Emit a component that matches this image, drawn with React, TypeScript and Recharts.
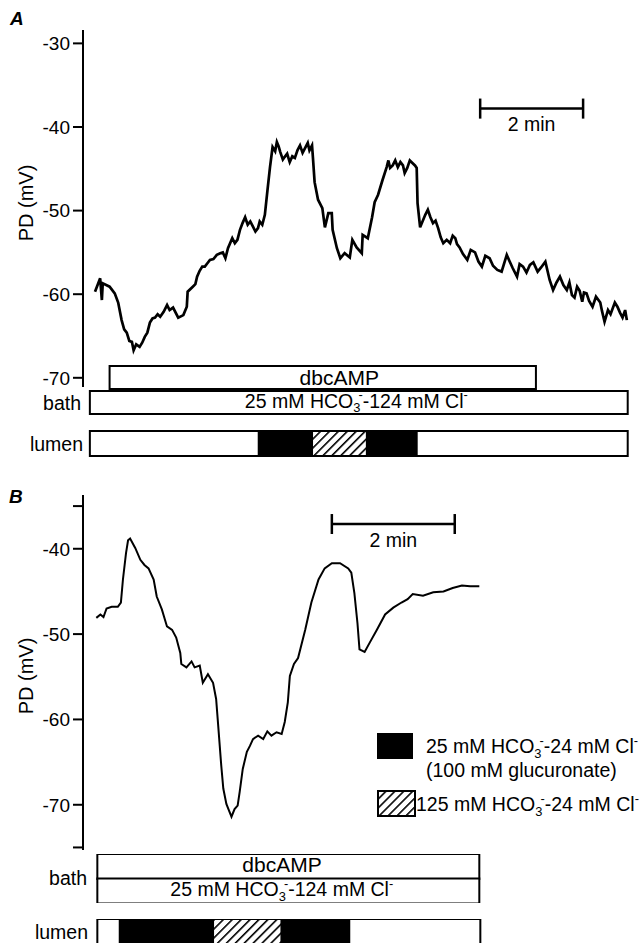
import React from 'react'
import { LineChart, Line, XAxis, YAxis, ReferenceLine, BarChart, Bar, LabelList } from 'recharts'

const FONT = '"Liberation Sans", Arial, Helvetica, sans-serif'

// panel A trace: time (s) and PD (mV)
const TIME_A = [14,20,22,23,31,37,41,45,48,51,54,57,59,62,66,69,72,75,78,81,84,87,90,94,98,101,105,111,117,121,122,128,131,133,136,139,142,145,148,152,156,160,163,166,169,174,177,180,183,186,189,192,195,198,201,204,206,209,212,215,218,221,224,226,228,230,233,235,238,241,244,247,250,253,256,259,262,264,267,268,270,274,279,282,286,290,291,296,300,305,311,314,319,325,326,332,337,340,344,349,354,356,358,361,364,367,370,373,375,378,381,384,387,389,390,393,399,402,405,408,411,414,417,420,424,428,431,434,436,439,443,448,452,457,461,465,469,474,478,483,488,494,497,501,506,509,513,517,521,525,530,534,539,544,548,552,556,560,564,567,570,573,576,579,582,584,587,590,594,598,603,605,608,612,615,620,623,626,629,632,634]
const PD_A = [-59.7,-58.1,-60.7,-58.7,-59.1,-59.9,-61.0,-63.1,-64.2,-64.6,-65.6,-65.7,-66.7,-66.0,-66.3,-65.8,-65.1,-64.6,-63.4,-62.9,-62.8,-62.4,-62.7,-62.1,-61.3,-61.9,-61.6,-62.8,-62.5,-61.5,-59.7,-59.1,-58.8,-57.9,-57.2,-56.7,-56.7,-56.3,-55.9,-55.8,-55.3,-55.1,-55.0,-55.7,-54.5,-53.3,-53.9,-53.5,-52.3,-51.5,-50.8,-51.7,-51.3,-51.9,-52.5,-52.1,-51.3,-51.7,-50.5,-47.6,-44.8,-42.4,-42.9,-41.8,-42.3,-43.0,-43.9,-43.6,-43.2,-44.2,-43.5,-43.7,-42.8,-42.2,-43.1,-42.5,-41.9,-42.8,-42.2,-43.6,-46.6,-48.7,-49.7,-52.0,-50.3,-50.3,-52.3,-54.5,-55.7,-55.1,-55.6,-53.5,-54.4,-55.1,-52.9,-53.3,-50.8,-49.0,-48.1,-46.4,-44.8,-44.0,-44.9,-44.6,-44.0,-44.8,-44.2,-44.6,-45.5,-44.9,-44.0,-44.3,-44.6,-44.9,-49.1,-52.0,-50.5,-49.9,-50.8,-51.5,-51.2,-52.1,-53.2,-53.9,-53.5,-53.9,-53.0,-53.3,-54.0,-54.4,-55.2,-55.9,-54.7,-55.0,-56.1,-56.7,-55.4,-55.7,-56.6,-57.1,-57.3,-55.3,-56.0,-56.9,-57.9,-56.4,-56.7,-57.4,-56.5,-56.2,-57.3,-56.8,-56.1,-58.3,-59.5,-58.6,-57.9,-58.9,-59.5,-58.6,-60.1,-60.4,-59.1,-59.6,-60.9,-59.8,-59.9,-60.8,-61.5,-60.3,-61.0,-62.0,-63.3,-61.9,-62.4,-61.0,-61.5,-62.2,-62.8,-61.9,-63.1]

// panel B trace
const TIME_B = [13,17,20,23,28,34,37,39,42,44,46,51,56,60,64,69,72,77,82,87,91,95,96,101,106,109,114,117,122,127,130,132,135,137,140,142,145,148,151,153,156,160,163,166,171,176,180,184,189,194,197,200,202,206,210,217,223,230,236,243,251,259,262,265,268,270,275,280,287,295,303,311,317,322,332,342,352,361,370,378,387]
const PD_B = [-48.1,-47.7,-48.0,-47.0,-46.8,-46.8,-46.3,-43.6,-40.5,-39.0,-38.8,-39.9,-41.3,-41.9,-42.3,-43.6,-45.6,-47.1,-49.1,-49.5,-50.4,-52.2,-53.5,-53.9,-53.2,-53.9,-53.7,-55.7,-54.7,-55.7,-57.6,-60.7,-65.4,-68.1,-69.9,-70.5,-71.4,-70.5,-70.1,-68.5,-65.8,-63.8,-63.1,-62.3,-61.9,-62.3,-61.4,-61.9,-61.5,-61.7,-60.3,-58.0,-54.9,-53.5,-52.8,-49.5,-46.3,-43.6,-42.3,-41.7,-41.7,-42.3,-42.8,-45.2,-48.7,-51.8,-52.1,-51.0,-49.5,-47.7,-46.9,-46.3,-45.9,-45.3,-45.5,-45.1,-45.0,-44.6,-44.3,-44.4,-44.4]

const TICKS_A = [-70, -60, -50, -40, -30]
const TICKS_B = [-75, -70, -60, -50, -40, -35]
const LABELS_B = [-70, -60, -50, -40]

// protocol: [start, end] in s, lumen = segment boundaries
const DBCAMP_A = [31, 528]
const BATH_A = [8, 635]
const LUMEN_A = [8, 205, 267, 331, 389, 635]
const DBCAMP_B = [14, 387]
const BATH_B = [14, 387]
const LUMEN_B = [14, 36, 127, 194, 260, 388]
const LUMEN_KINDS = ['open', 'gluc', 'hco3', 'gluc', 'open']

const FILL: Record<string, string> = { open: '#fff', gluc: '#000', hco3: 'url(#hatch)' }

function Chem({ x, y, pre, mid, size = 19.5 }: any) {
  const s = size * 0.66
  return (
    <text x={x} y={y} fontSize={size} fill="#000" fontFamily={FONT}>
      {pre}HCO
      <tspan fontSize={s} dy={size * 0.25}>3</tspan>
      <tspan fontSize={s} dx={-size * 0.1} dy={-size * 0.67}>-</tspan>
      <tspan dy={size * 0.42}>{mid} mM Cl</tspan>
      <tspan fontSize={s} dy={-size * 0.42}>-</tspan>
    </text>
  )
}

function Trace({ top, height, time, pd, xMax, yDomain, ticks, shown, right, bar, width }: any) {
  const data = time.map((t: number, i: number) => ({ t, v: pd[i] }))
  const end = bar.start + 120
  return (
    <div style={{ position: 'absolute', left: 0, top }}>
      <LineChart width={643} height={height} data={data} margin={{ top: 30, right, bottom: 5, left: 0 }}>
        <XAxis dataKey="t" type="number" domain={[0, xMax]} hide allowDataOverflow />
        <YAxis type="number" domain={yDomain} ticks={ticks} interval={0} allowDataOverflow width={83}
          tickFormatter={(v: number) => (shown.includes(v) ? String(v) : '')}
          tick={{ fontSize: 19, fill: '#000' }} tickSize={10} tickMargin={3}
          axisLine={{ stroke: '#000', strokeWidth: 2 }} tickLine={{ stroke: '#000', strokeWidth: 2 }} />
        <ReferenceLine segment={[{ x: bar.start, y: bar.mV }, { x: end, y: bar.mV }]} stroke="#000" strokeWidth={2.5}
          label={{ value: '2 min', position: 'bottom', offset: 9, fill: '#000', fontSize: 19.5 }} />
        <ReferenceLine segment={[{ x: bar.start, y: bar.mV + bar.half }, { x: bar.start, y: bar.mV - bar.half }]} stroke="#000" strokeWidth={2.5} />
        <ReferenceLine segment={[{ x: end, y: bar.mV + bar.half }, { x: end, y: bar.mV - bar.half }]} stroke="#000" strokeWidth={2.5} />
        <Line dataKey="v" type="linear" dot={false} stroke="#000" strokeWidth={width} isAnimationActive={false} />
      </LineChart>
    </div>
  )
}

const rowTick = (labels: Record<string, string>, dx: number, dy: number) => (p: any) => (
  <text x={p.x + dx} y={p.y + dy} textAnchor="end" fontSize={19.5} fill="#000" fontFamily={FONT}>
    {labels[p.payload.value] ?? ''}
  </text>
)

function BathBars({ top, height, gap, dbc, bath, xMax, right, tickLabels, tickDx, tickDy, inset, dbcDy }: any) {
  const rows = [
    { row: 'dbcAMP', pre: dbc[0], box: dbc[1] - dbc[0] },
    { row: 'bath', pre: bath[0], box: bath[1] - bath[0] },
  ]
  const content = (p: any) => {
    const vb = p.viewBox ?? p
    const x = vb.x + inset[p.value]
    const cy = vb.y + vb.height / 2
    if (p.value === 'dbcAMP')
      return <text x={x} y={cy + dbcDy} fontSize={21} fill="#000" fontFamily={FONT}>dbcAMP</text>
    return <Chem x={x} y={cy + 5} pre="25 mM " mid="-124" />
  }
  return (
    <div style={{ position: 'absolute', left: 0, top }}>
      <BarChart width={643} height={height} data={rows} layout="vertical" barCategoryGap={gap}
        margin={{ top: 0, right, bottom: 0, left: 0 }}>
        <XAxis type="number" domain={[0, xMax]} hide allowDataOverflow />
        <YAxis type="category" dataKey="row" width={83} axisLine={false} tickLine={false} tickSize={0} tickMargin={0}
          tick={rowTick(tickLabels, tickDx, tickDy)} />
        <Bar dataKey="pre" stackId="s" fill="none" isAnimationActive={false} />
        <Bar dataKey="box" stackId="s" fill="#fff" stroke="#000" strokeWidth={2} isAnimationActive={false}>
          <LabelList dataKey="row" content={content} />
        </Bar>
      </BarChart>
    </div>
  )
}

function LumenBar({ top, height, gap, bounds, xMax, right, tickDx }: any) {
  const row: any = { row: 'lumen', pre: bounds[0] }
  LUMEN_KINDS.forEach((_, i) => { row['s' + i] = bounds[i + 1] - bounds[i] })
  return (
    <div style={{ position: 'absolute', left: 0, top }}>
      <BarChart width={643} height={height} data={[row]} layout="vertical" barCategoryGap={gap}
        margin={{ top: 0, right, bottom: 0, left: 0 }}>
        <XAxis type="number" domain={[0, xMax]} hide allowDataOverflow />
        <YAxis type="category" dataKey="row" width={83} axisLine={false} tickLine={false} tickSize={0} tickMargin={0}
          tick={rowTick({ lumen: 'lumen' }, tickDx, 7)} />
        <Bar dataKey="pre" stackId="s" fill="none" isAnimationActive={false} />
        {LUMEN_KINDS.map((k, i) => (
          <Bar key={i} dataKey={'s' + i} stackId="s" fill={FILL[k]} stroke="#000" strokeWidth={2} isAnimationActive={false} />
        ))}
      </BarChart>
    </div>
  )
}

export default function App() {
  return (
    <div style={{ position: 'absolute', left: 0, top: 0, width: 643, height: 943, overflow: 'hidden', background: '#fff', fontFamily: FONT }}>
      <svg width={643} height={943} style={{ position: 'absolute', left: 0, top: 0 }}>
        <defs>
          <pattern id="hatch" patternUnits="userSpaceOnUse" width="6.3" height="6.3" patternTransform="rotate(45)">
            <rect width="6.3" height="6.3" fill="#fff" />
            <line x1="0" y1="0" x2="0" y2="6.3" stroke="#000" strokeWidth="3.2" />
          </pattern>
        </defs>
        <text x={10} y={25} fontSize={19} fontWeight="bold" fontStyle="italic" fill="#000">A</text>
        <text x={9} y={503} fontSize={19} fontWeight="bold" fontStyle="italic" fill="#000">B</text>
        <text transform="translate(33,203) rotate(-90)" textAnchor="middle" fontSize={20} fill="#000">PD (mV)</text>
        <text transform="translate(33,676) rotate(-90)" textAnchor="middle" fontSize={20} fill="#000">PD (mV)</text>
        <rect x={377} y={733} width={36} height={26} fill="#000" />
        <Chem x={426} y={753} pre="25 mM " mid="-24" />
        <text x={426} y={777} fontSize={19.5} fill="#000">(100 mM glucuronate)</text>
        <rect x={378} y={791} width={37} height={25} fill="url(#hatch)" stroke="#000" strokeWidth={2} />
        <Chem x={416} y={811} pre="125 mM " mid="-24" />
      </svg>

      <Trace top={0} height={392} time={TIME_A} pd={PD_A} xMax={640} yDomain={[-71.1, -28.4]}
        ticks={TICKS_A} shown={TICKS_A} right={11} bar={{ start: 463, mV: -37.8, half: 1.2 }} width={2.7} />
      <BathBars top={365} height={50} gap={1} dbc={DBCAMP_A} bath={BATH_A} xMax={640} right={11}
        tickLabels={{ bath: 'bath' }} tickDx={-2} tickDy={7} inset={{ dbcAMP: 190, bath: 155 }} dbcDy={7.5} />
      <LumenBar top={430} height={27} gap={1} bounds={LUMEN_A} xMax={640} right={11} tickDx={0} />

      <Trace top={465} height={390} time={TIME_B} pd={PD_B} xMax={540} yDomain={[-75.3, -33.7]}
        ticks={TICKS_B} shown={LABELS_B} right={7} bar={{ start: 243, mV: -37.1, half: 1.17 }} width={2} />
      <BathBars top={854} height={49} gap={0} dbc={DBCAMP_B} bath={BATH_B} xMax={540} right={7}
        tickLabels={{ dbcAMP: 'bath' }} tickDx={4} tickDy={19} inset={{ dbcAMP: 145, bath: 73 }} dbcDy={5.5} />
      <LumenBar top={919} height={26} gap={0} bounds={LUMEN_B} xMax={540} right={7} tickDx={5} />
    </div>
  )
}
